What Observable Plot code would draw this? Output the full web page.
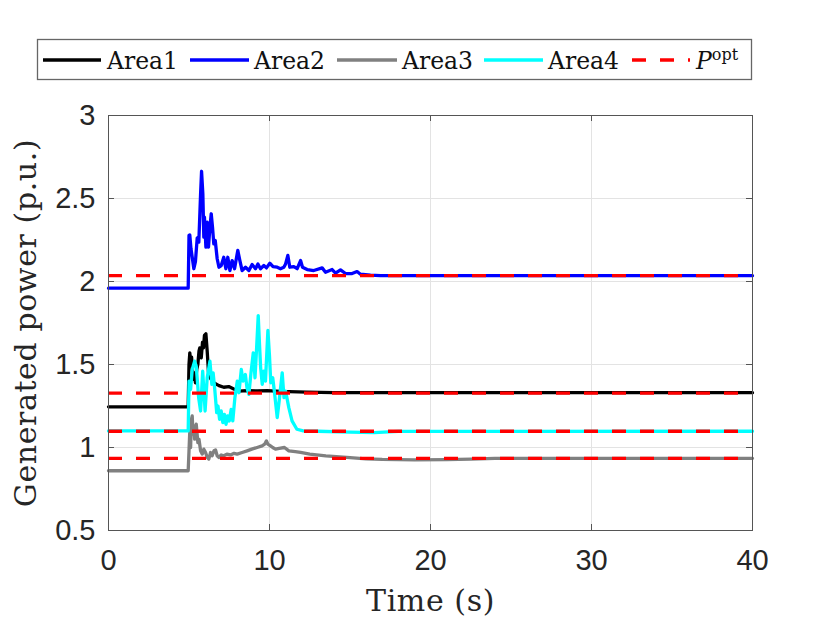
<!DOCTYPE html>
<html>
<head>
<meta charset="utf-8">
<script src="https://cdn.jsdelivr.net/npm/d3@7"></script>
<script src="https://cdn.jsdelivr.net/npm/@observablehq/plot@0.6"></script>
<style>
  body { margin: 0; background: #fff; }
  #wrap { position: relative; width: 830px; height: 623px; }
  #legend { position: absolute; left: 0; top: 0; }
  #legend text { font-family: "DejaVu Serif", serif; font-size: 23.5px; fill: #111; }
  #chart { position: absolute; left: 0; top: 0; }
</style>
</head>
<body>
<div id="wrap">
  <div id="chart"></div>
  <svg id="legend" width="830" height="100" xmlns="http://www.w3.org/2000/svg">
    <rect x="37.5" y="39.5" width="714" height="40" fill="#fff" stroke="#666" stroke-width="1.3"/>
    <line x1="43" x2="101" y1="60" y2="60" stroke="#000" stroke-width="3.5"/>
    <text x="107" y="68.5">Area1</text>
    <line x1="190" x2="249" y1="60" y2="60" stroke="#0000ff" stroke-width="3.5"/>
    <text x="254" y="68.5">Area2</text>
    <line x1="337" x2="397" y1="60" y2="60" stroke="#808080" stroke-width="3.5"/>
    <text x="402" y="68.5">Area3</text>
    <line x1="484" x2="543" y1="60" y2="60" stroke="#00ffff" stroke-width="3.5"/>
    <text x="548" y="68.5">Area4</text>
    <line x1="632" x2="690" y1="60" y2="60" stroke="#ff0000" stroke-width="3.5" stroke-dasharray="14,14"/>
    <text x="696" y="68.5"><tspan font-style="italic">P</tspan><tspan dy="-9" style="font-size:16px">opt</tspan></text>
  </svg>
</div>
<script>
// ---- data (time in s, generated power in p.u.) ----
const area1 = [[0,1.245],[4.95,1.245],[5.0,1.50],[5.05,1.57],[5.1,1.52],[5.16,1.545],[5.26,1.41],[5.33,1.45],[5.4,1.39],[5.48,1.47],[5.55,1.50],[5.62,1.58],[5.67,1.60],[5.72,1.55],[5.76,1.54],[5.84,1.635],[5.9,1.60],[5.96,1.675],[6.05,1.685],[6.13,1.58],[6.21,1.455],[6.34,1.415],[6.54,1.39],[6.86,1.373],[7.16,1.363],[7.47,1.367],[7.78,1.353],[8.1,1.34],[8.6,1.343],[9.25,1.341],[9.85,1.343],[10.7,1.338],[12.3,1.334],[14,1.33],[40,1.33]];

const area2 = [[0,1.96],[4.95,1.96],[5.0,2.277],[5.05,2.28],[5.12,2.2],[5.2,2.146],[5.3,2.077],[5.4,2.12],[5.51,2.263],[5.61,2.237],[5.72,2.528],[5.78,2.664],[5.86,2.528],[5.92,2.267],[5.96,2.387],[6.05,2.207],[6.13,2.357],[6.21,2.207],[6.3,2.327],[6.38,2.408],[6.46,2.327],[6.54,2.227],[6.63,2.247],[6.75,2.137],[6.86,2.086],[7.0,2.096],[7.16,2.146],[7.29,2.077],[7.41,2.146],[7.54,2.066],[7.68,2.126],[7.83,2.077],[8.03,2.187],[8.16,2.126],[8.3,2.066],[8.51,2.086],[8.72,2.066],[8.92,2.102],[9.13,2.077],[9.28,2.106],[9.44,2.077],[9.65,2.096],[9.81,2.082],[10.02,2.11],[10.22,2.09],[10.48,2.086],[10.68,2.077],[10.89,2.086],[11.0,2.106],[11.14,2.157],[11.26,2.086],[11.51,2.09],[11.72,2.077],[11.93,2.126],[12.05,2.086],[12.34,2.072],[12.75,2.066],[13.27,2.082],[13.48,2.056],[13.89,2.072],[14.1,2.05],[14.41,2.07],[14.72,2.048],[15.13,2.048],[15.44,2.06],[15.65,2.044],[16.27,2.038],[16.89,2.035],[40,2.035]];

const area3 = [[0,0.86],[4.95,0.86],[5.0,0.98],[5.05,1.10],[5.1,1.0],[5.15,1.17],[5.2,1.19],[5.25,1.08],[5.3,1.13],[5.35,1.05],[5.45,1.14],[5.55,1.03],[5.62,1.05],[5.72,0.98],[5.82,0.96],[5.92,0.99],[6.03,0.97],[6.13,0.94],[6.23,0.93],[6.34,0.97],[6.44,0.95],[6.55,0.98],[6.65,0.985],[6.75,0.95],[6.85,0.94],[7.0,0.955],[7.16,0.95],[7.35,0.96],[7.58,0.955],[7.8,0.965],[7.99,0.96],[8.3,0.97],[8.61,0.98],[8.9,0.99],[9.23,1.0],[9.54,1.01],[9.7,1.02],[9.81,1.04],[9.9,1.02],[10.06,1.01],[10.2,1.0],[10.37,0.99],[10.6,0.995],[10.93,1.0],[11.2,0.98],[11.6,0.975],[11.93,0.97],[12.5,0.96],[13.5,0.95],[14.8,0.94],[16,0.932],[17,0.928],[19,0.925],[21,0.927],[22.5,0.93],[24,0.934],[27,0.935],[40,0.935]];

const area4 = [[0,1.1],[4.95,1.1],[5.0,1.40],[5.1,1.35],[5.2,1.47],[5.35,1.52],[5.45,1.49],[5.6,1.30],[5.72,1.22],[5.85,1.46],[6.0,1.22],[6.13,1.42],[6.3,1.52],[6.42,1.38],[6.5,1.45],[6.6,1.35],[6.72,1.21],[6.8,1.25],[6.9,1.17],[7.0,1.22],[7.1,1.15],[7.2,1.20],[7.3,1.14],[7.4,1.19],[7.5,1.16],[7.62,1.23],[7.72,1.16],[7.85,1.30],[8.0,1.40],[8.1,1.33],[8.25,1.47],[8.35,1.40],[8.5,1.44],[8.6,1.36],[8.72,1.32],[8.85,1.45],[8.99,1.57],[9.1,1.42],[9.2,1.60],[9.3,1.795],[9.38,1.62],[9.45,1.48],[9.55,1.38],[9.65,1.46],[9.75,1.40],[9.9,1.705],[10.0,1.55],[10.08,1.39],[10.2,1.42],[10.3,1.34],[10.48,1.18],[10.6,1.28],[10.79,1.45],[10.9,1.30],[11.0,1.34],[11.2,1.24],[11.4,1.16],[11.7,1.11],[12.1,1.10],[13,1.098],[15,1.093],[16.5,1.09],[18,1.097],[40,1.098]];

const pOpt = [2.035, 1.327, 1.098, 0.934];

const xTicks = [0, 10, 20, 30, 40];
const yTicks = [0.5, 1, 1.5, 2, 2.5, 3];
const xGrid = [10, 20, 30];
const yGrid = [1, 1.5, 2, 2.5];

// ---- layout ----
const W = 830, H = 623;
const mL = 108, mR = 78, mT = 115, mB = 93;
const innerW = W - mL - mR, innerH = H - mT - mB;
const axisColor = "#555";
const tickFont = "Liberation Sans, Arial, Helvetica, sans-serif";
const serif = "DejaVu Serif, serif";

const fx = d => d[0], fy = d => d[1];

const plot = Plot.plot({
  width: W,
  height: H,
  marginLeft: mL,
  marginRight: mR,
  marginTop: mT,
  marginBottom: mB,
  style: {background: "transparent", overflow: "visible"},
  x: {domain: [0, 40], axis: null},
  y: {domain: [0.5, 3], axis: null},
  marks: [
    Plot.gridX(xGrid, {stroke: "#e3e3e3", strokeOpacity: 1, strokeWidth: 1}),
    Plot.gridY(yGrid, {stroke: "#e3e3e3", strokeOpacity: 1, strokeWidth: 1}),
    Plot.line(area1, {x: fx, y: fy, stroke: "#000000", strokeWidth: 3.3}),
    Plot.line(area2, {x: fx, y: fy, stroke: "#0000ff", strokeWidth: 3.3}),
    Plot.line(area3, {x: fx, y: fy, stroke: "#808080", strokeWidth: 3.3}),
    Plot.line(area4, {x: fx, y: fy, stroke: "#00ffff", strokeWidth: 3.3}),
    Plot.ruleY(pOpt, {stroke: "#ff0000", strokeWidth: 3.3, strokeDasharray: "14,14"}),
    // inward tick marks
    Plot.tickX(xGrid, {x: d => d, stroke: axisColor, insetTop: innerH - 6}),
    Plot.tickX(xGrid, {x: d => d, stroke: axisColor, insetBottom: innerH - 6}),
    Plot.tickY(yGrid, {y: d => d, stroke: axisColor, insetRight: innerW - 6}),
    Plot.tickY(yGrid, {y: d => d, stroke: axisColor, insetLeft: innerW - 6}),
    Plot.frame({stroke: axisColor, strokeWidth: 1}),
    Plot.axisX(xTicks, {tickSize: 0, tickPadding: 19, fontSize: 29, fontFamily: tickFont, fill: "#262626", tickFormat: d => String(d), label: null}),
    Plot.axisY(yTicks, {tickSize: 0, tickPadding: 13, fontSize: 29, fontFamily: tickFont, fill: "#262626", tickFormat: d => String(d), label: null}),
    Plot.text(["Time (s)"], {frameAnchor: "bottom", dy: 71, text: d => d, fontSize: 30, fontFamily: serif, fill: "#262626", textAnchor: "middle", lineAnchor: "middle"}),
    Plot.text(["Generated power (p.u.)"], {frameAnchor: "left", dx: -82, rotate: -90, text: d => d, fontSize: 30, fontFamily: serif, fill: "#262626", textAnchor: "middle", lineAnchor: "middle"})
  ]
});

document.getElementById("chart").appendChild(plot);
d3.select(plot).selectAll("g[aria-label='text'] text").style("letter-spacing", "0.6px");
</script>
</body>
</html>
